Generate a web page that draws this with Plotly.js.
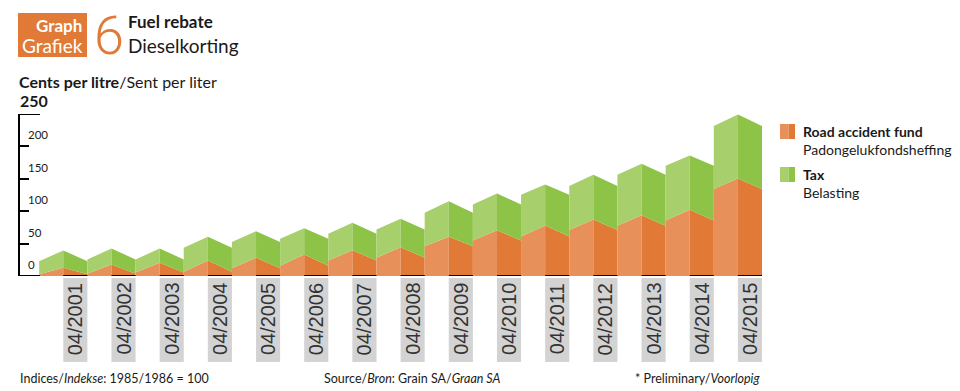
<!DOCTYPE html>
<html>
<head>
<meta charset="utf-8">
<script src="https://cdn.plot.ly/plotly-3.0.1.min.js"></script>
<style>html,body{margin:0;padding:0;background:#fff;}#chart{width:960px;height:391px;}</style>
</head>
<body>
<div id="chart"></div>
<script>
// ---- Data (cents per litre) ----
const years = ["04/2001","04/2002","04/2003","04/2004","04/2005","04/2006","04/2007","04/2008",
               "04/2009","04/2010","04/2011","04/2012","04/2013","04/2014","04/2015"];
// value at the labelled date (ridge of each block)
const roadAccidentFund = [12.7,17.8,20.4,23.9,28.1,33.2,39.8,44.5,60.5,70.7,78.0,87.3,93.9,102.2,150.6];
const tax              = [26.7,24.7,22.1,36.6,41.1,40.6,42.4,43.8,55.0,56.7,63.3,69.0,79.4,83.9,98.8];
// value at the block edges (perspective sides)
const roadAccidentFundSide = [2.8,3.4,5.4,6.6,11.9,15.8,23.9,28.1,46.0,54.8,61.0,71.0,77.7,85.7,134.4];
const taxSide              = [20.1,22.1,20.1,37.0,40.6,41.7,41.3,43.7,51.6,55.6,64.4,67.7,78.6,84.5,97.0];
const yTickVals   = [0,50,100,150,200,250];
const yTickLabels = ["0","50","100","150","200","250"];

// ---- Styling ----
const C = {
  rafLight:"#E8905A", rafDark:"#E07A36",
  taxLight:"#A7CF6C", taxDark:"#8DC346",
  box:"#E07A36", gray:"#D3D3D3", text:"#1a1a1a"
};
const FONT = "Lato, 'Open Sans', sans-serif";
const L = 20, W = 742, T = 114, H = 162;
const xp = px => (px - L) / W;
const yp = py => (T + H - py) / H;

const traces = [];
function face(xs, ys, color){
  traces.push({type:"scatter", mode:"lines", x:xs, y:ys, fill:"toself",
    fillcolor:color, line:{width:0, color:color}, hoverinfo:"skip", showlegend:false});
}
years.forEach((yr, i) => {
  const r = roadAccidentFund[i], rs = roadAccidentFundSide[i];
  const t = r + tax[i], ts = rs + taxSide[i];
  face([i-0.5, i-0.5, i, i], [0, rs, r, 0], C.rafLight);
  face([i, i, i+0.5, i+0.5], [0, r, rs, 0], C.rafDark);
  face([i-0.5, i-0.5, i, i], [rs, ts, t, r], C.taxLight);
  face([i, i, i+0.5, i+0.5], [r, t, ts, rs], C.taxDark);
});

const shapes = [];
const annotations = [];

shapes.push({type:"line", xref:"paper", yref:"y", x0:0, x1:xp(40), y0:0, y1:0, line:{color:"#000", width:2}});
shapes.push({type:"line", xref:"paper", yref:"y", x0:0, x1:xp(40), y0:250, y1:250, line:{color:"#000", width:2}});
years.forEach((yr, i) => {
  shapes.push({type:"line", xref:"x", yref:"y", x0:i, x1:i+0.5, y0:0, y1:0, line:{color:"#000", width:2}});
  shapes.push({type:"rect", xref:"x", yref:"paper", x0:i, x1:i+0.5, y0:yp(278), y1:yp(362),
    fillcolor:C.gray, line:{width:0}});
  annotations.push({xref:"x", yref:"paper", x:i+0.25, y:yp(319), text:yr, textangle:-90,
    showarrow:false, xanchor:"center", yanchor:"middle",
    font:{family:"'Liberation Sans Narrow', 'Liberation Sans', sans-serif", size:20, color:"#333"}});
});

yTickVals.forEach((v, k) => {
  if (v === 250) {
    annotations.push({xref:"paper", yref:"paper", x:xp(18), y:yp(100), text:"<b>"+yTickLabels[k]+"</b>",
      showarrow:false, xanchor:"left", yanchor:"middle", font:{family:FONT, size:16, color:C.text}});
  } else {
    annotations.push({xref:"paper", yref:"y", x:xp(26), y:v, yshift:3, text:yTickLabels[k],
      showarrow:false, xanchor:"left", yanchor:"bottom", font:{family:FONT, size:11.5, color:C.text}});
  }
});

// header block
shapes.push({type:"rect", xref:"paper", yref:"paper", x0:xp(18), x1:xp(87), y0:yp(13), y1:yp(57),
  fillcolor:C.box, line:{width:0}});
annotations.push({xref:"paper", yref:"paper", x:xp(84), y:yp(25), text:"<b>Graph</b>", showarrow:false,
  xanchor:"right", yanchor:"middle", font:{family:FONT, size:17, color:"#fff"}});
annotations.push({xref:"paper", yref:"paper", x:xp(85), y:yp(45), text:"Grafiek", showarrow:false,
  xanchor:"right", yanchor:"middle", font:{family:FONT, size:19, color:"#fff"}});
annotations.push({xref:"paper", yref:"paper", x:xp(92), y:yp(35), text:"6", showarrow:false,
  xanchor:"left", yanchor:"middle", font:{family:"Roboto, 'DejaVu Sans', sans-serif", size:54, color:C.box, weight:300}});
annotations.push({xref:"paper", yref:"paper", x:xp(126), y:yp(22), text:"<b>Fuel rebate</b>", showarrow:false,
  xanchor:"left", yanchor:"middle", font:{family:FONT, size:17, color:C.text}});
annotations.push({xref:"paper", yref:"paper", x:xp(126), y:yp(45), text:"Dieselkorting", showarrow:false,
  xanchor:"left", yanchor:"middle", font:{family:FONT, size:19, color:C.text}});
annotations.push({xref:"paper", yref:"paper", x:xp(17), y:yp(81), text:"<b>Cents per litre</b>/Sent per liter",
  showarrow:false, xanchor:"left", yanchor:"middle", font:{family:FONT, size:16, color:C.text}});

function legendItem(yTop, light, dark, bold, sub){
  shapes.push({type:"rect", xref:"paper", yref:"paper", x0:xp(780), x1:xp(788.5), y0:yp(yTop), y1:yp(yTop+15),
    fillcolor:light, line:{width:0}});
  shapes.push({type:"rect", xref:"paper", yref:"paper", x0:xp(788.5), x1:xp(795), y0:yp(yTop), y1:yp(yTop+15),
    fillcolor:dark, line:{width:0}});
  annotations.push({xref:"paper", yref:"paper", x:xp(801), y:yp(yTop+7), text:"<b>"+bold+"</b>", showarrow:false,
    xanchor:"left", yanchor:"middle", font:{family:FONT, size:14, color:C.text}});
  annotations.push({xref:"paper", yref:"paper", x:xp(801), y:yp(yTop+25.5), text:sub, showarrow:false,
    xanchor:"left", yanchor:"middle", font:{family:FONT, size:14, color:C.text}});
}
legendItem(124, C.rafLight, C.rafDark, "Road accident fund", "Padongelukfondsheffing");
legendItem(167, C.taxLight, C.taxDark, "Tax", "Belasting");

annotations.push({xref:"paper", yref:"paper", x:xp(18), y:yp(378), text:"Indices/<i>Indekse</i>: 1985/1986 = 100",
  showarrow:false, xanchor:"left", yanchor:"middle", font:{family:FONT, size:12.5, color:C.text}});
annotations.push({xref:"paper", yref:"paper", x:xp(322), y:yp(378), text:"Source/<i>Bron</i>: Grain SA/<i>Graan SA</i>",
  showarrow:false, xanchor:"left", yanchor:"middle", font:{family:FONT, size:12.5, color:C.text}});
annotations.push({xref:"paper", yref:"paper", x:xp(762), y:yp(378), text:"* Preliminary/<i>Voorlopig</i>",
  showarrow:false, xanchor:"right", yanchor:"middle", font:{family:FONT, size:12.5, color:C.text}});

const layout = {
  width:960, height:391,
  margin:{l:L, r:960-L-W, t:T, b:391-T-H, pad:0},
  paper_bgcolor:"#fff", plot_bgcolor:"#fff",
  showlegend:false,
  xaxis:{range:[-0.898, 14.5], visible:false, fixedrange:true},
  yaxis:{range:[0,250], showgrid:false, zeroline:false, showline:true, linecolor:"#000", linewidth:2,
         ticks:"inside", ticklen:9, tickwidth:2, tickcolor:"#000", tickvals:yTickVals,
         showticklabels:false, fixedrange:true},
  shapes:shapes, annotations:annotations
};
Plotly.newPlot("chart", traces, layout, {staticPlot:true, displayModeBar:false});
</script>
</body>
</html>
